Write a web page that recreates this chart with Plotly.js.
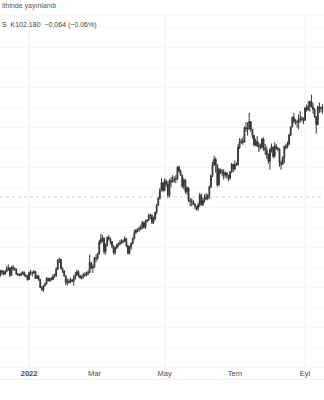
<!DOCTYPE html>
<html>
<head>
<meta charset="utf-8">
<script src="https://cdn.plot.ly/plotly-3.0.1.min.js"></script>
<style>html,body{margin:0;padding:0;background:#fff;}#chart{width:324px;height:400px;}</style>
</head>
<body>
<div id="chart"></div>
<script>
// ---- data (daily bars, Dec 2021 - Sep 2022) ----
const monthDays = [
  ['2021-12', [7,8,9,10,13,14,15,16,17,20,21,22,23,24,27,28,29,30,31]],
  ['2022-01', [3,4,5,6,7,10,11,12,13,14,17,18,19,20,21,24,25,26,27,28,31]],
  ['2022-02', [1,2,3,4,7,8,9,10,11,14,15,16,17,18,21,22,23,24,25,28]],
  ['2022-03', [1,2,3,4,7,8,9,10,11,14,15,16,17,18,21,22,23,24,25,28,29,30,31]],
  ['2022-04', [1,4,5,6,7,8,11,12,13,14,15,18,19,20,21,22,25,26,27,28,29]],
  ['2022-05', [2,3,4,5,6,9,10,11,12,13,16,17,18,19,20,23,24,25,26,27,30,31]],
  ['2022-06', [1,2,3,6,7,8,9,10,13,14,15,16,17,20,21,22,23,24,27,28,29,30]],
  ['2022-07', [1,4,5,6,7,8,11,12,13,14,15,18,19,20,21,22,25,26,27,28,29]],
  ['2022-08', [1,2,3,4,5,8,9,10,11,12,15,16,17,18,19,22,23,24,25,26,29,30,31]],
  ['2022-09', [1,2,5,6,7,8,9,12,13,14,15,16]]
];
const openV = [
  // Dec
  96.25,96.05,96.35,96.25,96.10,96.30,96.55,96.60,96.00,96.65,96.55,96.50,96.10,96.05,96.00,96.10,96.25,96.00,95.95,
  // Jan
  95.65,96.20,96.25,96.20,96.30,95.75,95.95,95.65,95.00,94.80,95.15,95.30,95.75,95.55,95.75,95.65,95.90,96.00,96.50,97.25,97.30,
  // Feb
  96.55,96.35,95.95,95.40,95.50,95.45,95.60,95.50,95.80,96.05,96.30,95.95,95.80,95.80,96.05,96.00,96.15,96.20,97.05,96.60,
  // Mar
  96.70,97.40,97.40,97.75,98.70,99.00,99.05,97.95,98.50,99.10,99.00,98.75,98.40,97.85,98.25,98.50,98.55,98.65,98.80,98.80,99.00,98.40,97.80,
  // Apr
  98.30,98.60,99.00,99.50,99.65,99.80,99.80,99.90,100.30,99.95,100.45,100.50,100.90,100.95,100.35,100.60,101.15,101.75,102.30,102.95,103.60,
  // May
  102.95,103.75,103.45,102.55,103.75,103.65,103.80,103.90,103.90,104.85,104.55,104.20,103.30,103.80,102.85,103.15,102.10,102.05,102.05,101.80,101.65,101.45,
  // Jun
  101.75,102.55,101.80,102.15,102.40,102.30,102.55,103.25,104.15,105.05,105.50,105.05,103.40,104.65,104.50,104.45,104.20,104.40,104.20,103.95,104.45,105.10,
  // Jul
  104.70,105.10,105.10,106.50,106.95,107.00,106.90,108.10,108.00,108.00,108.60,107.95,107.45,106.70,107.00,106.60,106.65,106.45,107.15,106.40,106.25,
  // Aug
  105.90,105.35,106.30,106.50,105.75,106.60,106.40,106.35,105.20,105.10,105.65,106.55,106.50,106.75,107.50,108.15,108.95,108.60,108.60,108.55,108.80,108.85,108.75,
  // Sep
  108.70,109.70,109.55,109.85,110.25,109.80,109.60,109.00,108.35,109.80,109.65,109.70
];
const highV = [
  96.40,96.45,96.45,96.40,96.45,96.75,96.90,96.65,96.75,96.85,96.65,96.55,96.20,96.15,96.25,96.35,96.30,96.10,96.00,
  96.30,96.45,96.30,96.45,96.35,96.05,96.00,95.70,95.10,95.20,95.40,95.85,95.80,95.80,95.85,96.10,96.15,96.65,97.30,97.45,97.30,
  96.65,96.40,96.00,95.75,95.70,95.80,95.70,96.00,96.25,96.45,96.40,96.05,96.00,96.20,96.25,96.30,96.40,97.70,97.10,96.90,
  97.50,97.70,97.85,98.90,99.40,99.30,99.10,98.60,99.20,99.30,99.10,98.80,98.45,98.35,98.60,98.70,98.90,98.95,98.95,99.20,99.05,98.50,98.40,
  98.70,99.10,99.75,99.80,99.85,100.00,100.15,100.45,100.40,100.55,100.60,101.05,101.05,100.95,100.80,101.20,101.85,102.40,103.15,103.95,103.60,
  103.95,103.85,103.70,103.90,104.05,104.20,104.10,104.20,104.95,105.00,104.65,104.25,103.95,103.90,103.30,103.20,102.35,102.30,102.15,101.90,101.65,101.95,
  102.75,102.70,102.35,102.65,102.75,102.65,103.35,104.25,105.30,105.80,105.65,105.10,104.80,104.75,104.70,104.70,104.50,104.40,104.15,104.55,105.20,105.10,
  105.40,105.25,106.75,107.25,107.20,107.30,108.20,108.55,108.55,109.30,108.60,108.00,107.50,107.20,107.40,106.90,106.80,107.25,107.30,106.75,106.55,
  106.00,106.45,106.80,106.55,106.90,106.75,106.50,106.40,105.40,105.75,106.65,106.80,106.95,107.60,108.20,109.00,109.30,108.80,108.75,109.20,109.45,109.05,108.95,
  109.80,110.00,110.25,110.30,110.80,110.15,109.70,109.05,109.90,110.15,109.85,110.05
];
const lowV = [
  95.95,95.90,96.00,96.00,96.05,96.25,96.35,95.85,95.95,96.40,96.35,96.05,95.95,95.90,95.95,96.05,95.90,95.80,95.55,
  95.60,96.00,95.90,96.10,95.70,95.70,95.55,94.95,94.75,94.63,95.10,95.25,95.50,95.45,95.55,95.60,95.80,95.85,96.45,97.00,96.50,
  96.20,95.90,95.20,95.15,95.30,95.35,95.45,95.15,95.65,95.95,95.85,95.70,95.65,95.75,95.90,95.90,96.00,96.20,96.50,96.20,
  96.60,97.05,97.25,97.70,98.55,98.70,97.75,97.70,98.35,98.85,98.55,98.20,97.70,97.70,98.15,98.30,98.45,98.60,98.60,98.70,98.30,97.70,97.70,
  98.10,98.55,98.95,99.40,99.55,99.55,99.70,99.80,99.80,99.80,100.30,100.45,100.60,100.20,100.20,100.50,101.00,101.70,102.20,102.90,102.80,
  102.90,103.25,102.35,102.40,103.20,103.60,103.60,103.55,103.80,104.40,104.15,103.15,103.05,102.70,102.60,102.00,101.65,101.65,101.75,101.40,101.30,101.30,
  101.60,101.70,101.65,101.95,102.15,102.15,102.25,103.15,104.05,104.95,104.40,103.25,103.35,104.30,104.10,103.85,104.00,103.90,103.70,103.80,104.40,104.45,
  104.60,104.95,104.95,106.35,106.75,106.70,106.90,107.75,107.45,107.90,107.75,107.20,106.55,106.60,106.50,106.10,106.30,106.40,106.20,105.85,105.55,
  105.15,104.65,106.05,105.60,105.65,106.30,106.15,104.90,104.65,105.05,105.20,106.30,106.40,106.65,107.40,108.15,108.45,108.35,108.10,107.95,108.50,108.60,108.40,
  108.65,109.40,109.50,109.40,109.75,109.25,108.90,107.60,108.30,109.30,109.35,109.25
];
const closeV = [
  96.05,96.35,96.25,96.10,96.30,96.55,96.60,96.00,96.65,96.55,96.50,96.10,96.05,96.00,96.10,96.25,96.00,95.95,95.65,
  96.20,96.25,96.20,96.30,95.75,95.95,95.65,95.00,94.80,95.15,95.30,95.75,95.55,95.75,95.65,95.90,96.00,96.50,97.25,97.30,96.55,
  96.35,95.95,95.40,95.50,95.45,95.60,95.50,95.80,96.05,96.30,95.95,95.80,95.80,96.05,96.00,96.15,96.20,97.05,96.60,96.70,
  97.40,97.40,97.75,98.70,99.00,99.05,97.95,98.50,99.10,99.00,98.75,98.40,97.85,98.25,98.50,98.55,98.65,98.80,98.80,99.00,98.40,97.80,98.30,
  98.60,99.00,99.50,99.65,99.80,99.80,99.90,100.30,99.95,100.45,100.50,100.90,100.95,100.35,100.60,101.15,101.75,102.30,102.95,103.60,102.95,
  103.75,103.45,102.55,103.75,103.65,103.80,103.90,103.90,104.85,104.55,104.20,103.30,103.80,102.85,103.15,102.10,102.05,102.05,101.80,101.65,101.45,101.75,
  102.55,101.80,102.15,102.40,102.30,102.55,103.25,104.15,105.05,105.50,105.05,103.40,104.65,104.50,104.45,104.20,104.40,104.20,103.95,104.45,105.10,104.70,
  105.10,105.10,106.50,106.95,107.00,106.90,108.10,108.00,108.00,108.60,107.95,107.45,106.70,107.00,106.60,106.65,106.45,107.15,106.40,106.25,105.90,
  105.35,106.30,106.50,105.75,106.60,106.40,106.35,105.20,105.10,105.65,106.55,106.50,106.75,107.50,108.15,108.95,108.60,108.60,108.55,108.80,108.85,108.75,108.70,
  109.70,109.55,109.85,110.25,109.80,109.60,109.00,108.35,109.80,109.65,109.70,109.75
];
const tickDates = ['2022-01-03','2022-03-01','2022-05-02','2022-07-01','2022-09-01'];
const tickLabels = ['<b>2022</b>','Mar','May','Tem','Eyl'];
const gridDates = ['2022-01-03','2022-05-02','2022-09-01'];
const priceLineValue = 102.42;
const headerText = 'ithinde yayınlandı';
const legendText = 'S  K102.180  −0.064 (−0.06%)';

// ---- build ----
const dates = [];
monthDays.forEach(([ym, days]) => days.forEach(d => dates.push(ym + '-' + String(d).padStart(2,'0'))));

const trace = {
  type: 'candlestick',
  x: dates, open: openV, high: highV, low: lowV, close: closeV,
  increasing: {line: {color: '#333333', width: 1}, fillcolor: '#555555'},
  decreasing: {line: {color: '#333333', width: 1}, fillcolor: '#222222'},
  whiskerwidth: 0,
  hoverinfo: 'skip'
};

const shapes = gridDates.map(d => ({
  type: 'line', xref: 'x', yref: 'paper', x0: d, x1: d, y0: 0, y1: 1,
  line: {color: '#f1f1f1', width: 1}, layer: 'below'
}));
shapes.push({type: 'line', xref: 'paper', yref: 'y', x0: 0, x1: 1, y0: priceLineValue, y1: priceLineValue,
  line: {color: '#d2d2d2', width: 1, dash: 'dot'}, layer: 'below'});
shapes.push({type: 'line', xref: 'paper', yref: 'paper', x0: 0, x1: 1, y0: 1, y1: 1,
  line: {color: '#f0f0f0', width: 1}});

const layout = {
  width: 324, height: 400,
  margin: {l: 0, r: 0, t: 15, b: 21, pad: 0},
  paper_bgcolor: '#ffffff', plot_bgcolor: '#ffffff',
  showlegend: false,
  font: {family: 'Liberation Sans, Arial, sans-serif', size: 7, color: '#4a4a4a'},
  xaxis: {
    type: 'date',
    range: ['2021-12-07 19:00', '2022-09-16 21:00'],
    rangebreaks: [{bounds: ['sat', 'mon']}],
    rangeslider: {visible: false},
    tickmode: 'array', tickvals: tickDates, ticktext: tickLabels,
    ticklabelposition: 'inside', ticks: '',
    tickfont: {size: 7.5, color: '#4a4a4a'},
    showgrid: false, zeroline: false,
    showline: true, linecolor: '#eeeeee', linewidth: 1
  },
  yaxis: {
    range: [87.5, 117.33],
    showticklabels: false, ticks: '',
    showgrid: true, gridcolor: '#f7f7f7', gridwidth: 1,
    tick0: 90.1, dtick: 1.64,
    zeroline: false, showline: false, fixedrange: true
  },
  shapes: shapes,
  annotations: [
    {xref: 'paper', yref: 'paper', x: 0, y: 1, yshift: 15, xanchor: 'left', yanchor: 'top',
     text: headerText, showarrow: false, font: {size: 7, color: '#555555'}},
    {xref: 'paper', yref: 'paper', x: 0, y: 1, yshift: -4, xanchor: 'left', yanchor: 'top',
     text: legendText, showarrow: false, font: {size: 7, color: '#444444'}}
  ]
};

Plotly.newPlot('chart', [trace], layout, {displayModeBar: false, staticPlot: true});
</script>
</body>
</html>
